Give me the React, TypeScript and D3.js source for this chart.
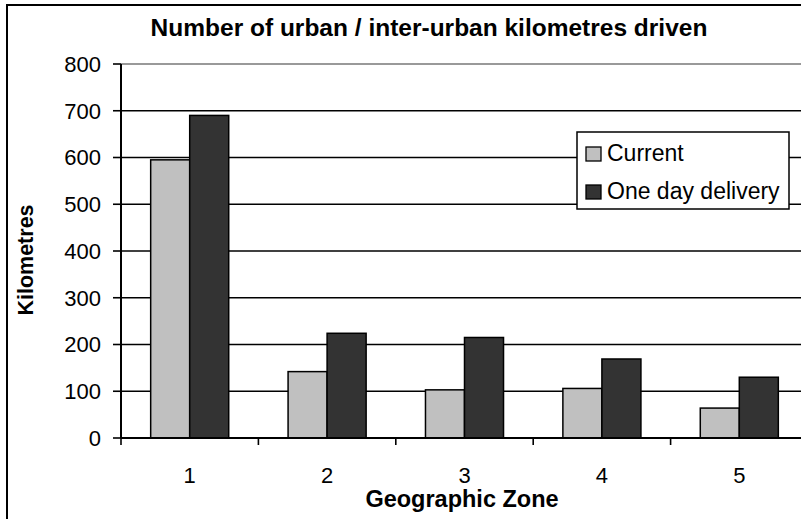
import * as d3 from "d3";

const zones = ["1", "2", "3", "4", "5"];
const seriesNames = ["Current", "One day delivery"];
const current = [595, 142, 103, 106, 64];
const oneDay = [690, 224, 215, 169, 130];
const yTicks = [0, 100, 200, 300, 400, 500, 600, 700, 800];

const colors = ["#c0c0c0", "#333333"];
const font = "'Liberation Sans', Arial, sans-serif";

function App() {
  const left = 121;
  const top = 64;
  const bottom = 438;
  const right = 808;

  const x = d3.scaleBand().domain(zones).range([left, right]).padding(0);
  const gap = x.bandwidth() * 0.216;
  const xInner = d3
    .scaleBand()
    .domain(seriesNames)
    .range([gap, x.bandwidth() - gap])
    .padding(0);
  const y = d3.scaleLinear().domain([0, 800]).range([bottom, top]);

  const series = [current, oneDay];
  const boundaries = [...zones.map((z) => x(z) as number), right];

  return (
    <svg
      width={801}
      height={519}
      style={{ position: "absolute", left: 0, top: 0, background: "#fff" }}
      fontFamily={font}
    >
      <rect x={0} y={0} width={801} height={519} fill="#fff" />
      {/* outer chart border, cropped on the right and bottom */}
      <rect x={7} y={5} width={900} height={600} fill="none" stroke="#000" strokeWidth={2} />

      <text x={429} y={36} textAnchor="middle" fontSize={24.5} fontWeight="bold">
        Number of urban / inter-urban kilometres driven
      </text>

      {/* gridlines */}
      {yTicks.map((t) => (
        <line
          key={"g" + t}
          x1={left}
          x2={right}
          y1={y(t)}
          y2={y(t)}
          stroke={t === 800 ? "#777" : "#000"}
          strokeWidth={1.6}
        />
      ))}

      {/* bars */}
      {zones.map((z, i) => (
        <g key={z} transform={`translate(${x(z)},0)`}>
          {series.map((s, k) => (
            <rect
              key={k}
              x={xInner(seriesNames[k])}
              y={y(s[i])}
              width={xInner.bandwidth()}
              height={bottom - y(s[i])}
              fill={colors[k]}
              stroke="#000"
              strokeWidth={1.5}
            />
          ))}
        </g>
      ))}

      {/* y axis */}
      <line x1={left} x2={left} y1={top} y2={bottom} stroke="#000" strokeWidth={2} />
      {yTicks.map((t) => (
        <g key={"t" + t}>
          <line x1={left - 8} x2={left} y1={y(t)} y2={y(t)} stroke="#000" strokeWidth={1.6} />
          <text x={101} y={y(t)} dy="0.36em" textAnchor="end" fontSize={22}>
            {t}
          </text>
        </g>
      ))}

      {/* x axis */}
      <line x1={left} x2={right} y1={bottom} y2={bottom} stroke="#000" strokeWidth={2} />
      {boundaries.map((b, i) => (
        <line key={"b" + i} x1={b} x2={b} y1={bottom} y2={bottom + 7} stroke="#000" strokeWidth={1.6} />
      ))}
      {zones.map((z) => (
        <text key={"l" + z} x={(x(z) as number) + x.bandwidth() / 2} y={483} textAnchor="middle" fontSize={22}>
          {z}
        </text>
      ))}

      <text x={462} y={507} textAnchor="middle" fontSize={23.5} fontWeight="bold">
        Geographic Zone
      </text>
      <text
        transform="translate(33,260) rotate(-90)"
        textAnchor="middle"
        fontSize={21.5}
        fontWeight="bold"
      >
        Kilometres
      </text>

      {/* legend */}
      <g>
        <rect x={577} y={132} width={212} height={77} fill="#fff" stroke="#000" strokeWidth={1.5} />
        {seriesNames.map((n, k) => (
          <g key={n} transform={`translate(586,${147 + k * 38})`}>
            <rect x={0} y={0} width={15} height={14} fill={colors[k]} stroke="#000" strokeWidth={1.3} />
            <text x={21} y={14} fontSize={23}>
              {n}
            </text>
          </g>
        ))}
      </g>
    </svg>
  );
}

export default App;
